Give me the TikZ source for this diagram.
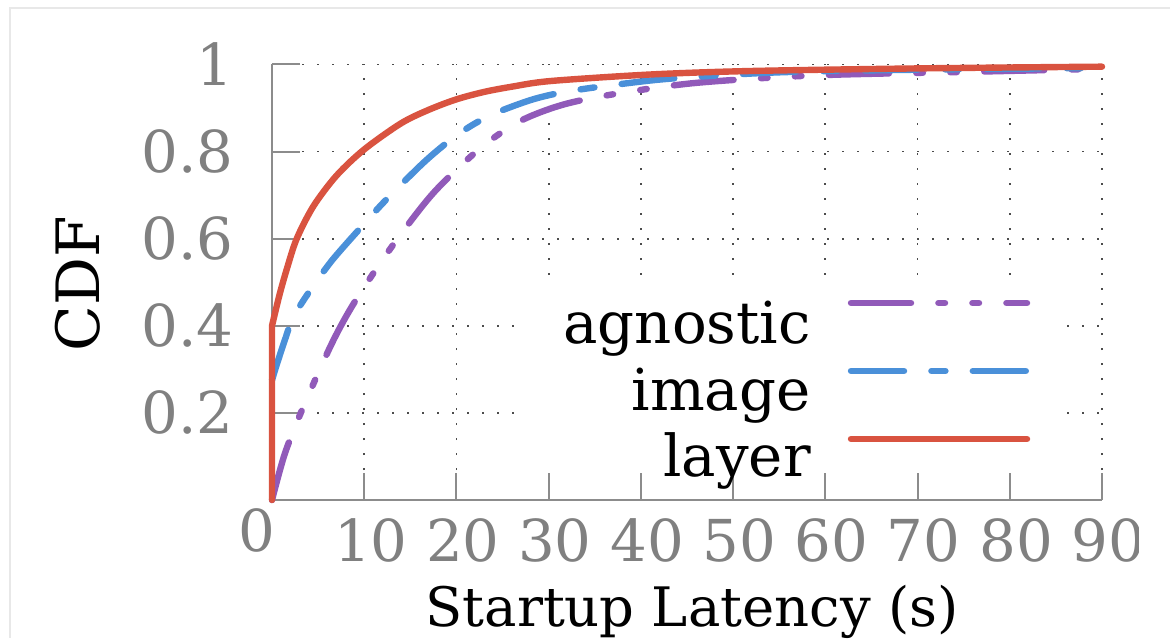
\documentclass[tikz,border=0pt]{standalone}
\usepackage{fontspec}
\setmainfont{DejaVu Serif}
\definecolor{cred}{RGB}{217,83,64}
\definecolor{cblue}{RGB}{74,144,217}
\definecolor{cpurple}{RGB}{145,90,185}
\definecolor{axgray}{RGB}{140,140,140}
\definecolor{labgray}{RGB}{128,128,128}
\definecolor{framegray}{RGB}{232,232,232}
\begin{document}
\begin{tikzpicture}[x=0.5bp,y=-0.5bp,
  curve/.style={line width=3.2bp, line cap=round, line join=round},
  agn/.style={curve, draw=cpurple, dash pattern=on 30bp off 13.7bp on 3.3bp off 13.7bp on 3.3bp off 13.7bp},
  img/.style={curve, draw=cblue, dash pattern=on 26.5bp off 13.7bp on 7bp off 13.7bp},
  lay/.style={curve, draw=cred},
  gridline/.style={line width=0.9bp, draw=black!70, dash pattern=on 0.9bp off 6.6bp},
  axisline/.style={draw=axgray, line width=1bp},
  ticklab/.style={text=labgray, font=\fontsize{29}{29}\selectfont, inner sep=0pt},
  leglab/.style={font=\fontsize{29}{29}\selectfont, inner sep=0pt, anchor=base east},
]
\useasboundingbox (0,0) rectangle (1170,638);
\fill[white] (0,0) rectangle (1170,638);
\draw[framegray, line width=1bp] (10,638) -- (10,8) -- (1170,8);

\begin{scope}[shift={(272,500)}, x=4.611bp, y=217.75bp]
  % grid
  \foreach \gx in {10,20,...,90} \draw[gridline] (\gx,0) -- (\gx,1);
  \foreach \gy in {0.2,0.4,0.6,0.8,1} \draw[gridline] (0,\gy) -- (90,\gy);
\end{scope}

% legend background
\fill[white] (520,275) rectangle (1055,472);

\begin{scope}[shift={(272,500)}, x=4.611bp, y=217.75bp]
  % ticks
  \foreach \gy in {0.2,0.4,0.6,0.8,1} \draw[axisline] (0,\gy) -- (3.04,\gy);
  \foreach \gx in {10,20,...,90} \draw[axisline] (\gx,0) -- (\gx,0.062);
  % axes
  \draw[axisline] (0,1) coordinate (ytop) -- (0,0) coordinate (orig) -- (90,0) coordinate (xend);
  % curves
  \draw[agn] plot[smooth, tension=0.5] coordinates {(0,0) (1.4,0.107) (3.4,0.214) (6.5,0.36) (9,0.456) (13,0.582) (17.5,0.705) (22.6,0.808) (26.9,0.87) (31.6,0.908) (37.4,0.933) (46.1,0.958) (59,0.975) (75.3,0.983) (90,0.99)};
  \draw[img] plot[smooth, tension=0.5] coordinates {(0,0.275) (0.5,0.31) (1.5,0.374) (2.3,0.42) (4.1,0.48) (6.5,0.55) (9.9,0.632) (12.4,0.69) (16.4,0.774) (19.3,0.826) (21.8,0.862) (24.4,0.89) (28.3,0.92) (32,0.938) (37.4,0.954) (43.5,0.968) (55,0.982) (70,0.988) (90,0.992)};
  \draw[lay] (0,0) -- plot[smooth, tension=0.5] coordinates {(0,0.4) (0.8,0.47) (1.6,0.53) (2.68,0.6) (4.5,0.675) (7,0.745) (10,0.805) (14,0.865) (17,0.896) (20,0.92) (23,0.937) (26,0.949) (30.2,0.962) (41,0.977) (51.8,0.985) (70,0.991) (90,0.995)};
\end{scope}

% y tick labels
\node[ticklab, anchor=east] (y10) at (234,64.5) {1};
\node[ticklab, anchor=east] (y08) at (234,151.6) {0.8};
\node[ticklab, anchor=east] (y06) at (234,238.7) {0.6};
\node[ticklab, anchor=east] (y04) at (234,325.8) {0.4};
\node[ticklab, anchor=east] (y02) at (234,412.9) {0.2};
% x tick labels
\node[ticklab] (x0) at (257,530) {0};
\node[ticklab] (x10) at (371,540) {10};
\node[ticklab] (x20) at (463,540) {20};
\node[ticklab] (x30) at (555,540) {30};
\node[ticklab] (x40) at (647,540) {40};
\node[ticklab] (x50) at (739,540) {50};
\node[ticklab] (x60) at (831,540) {60};
\node[ticklab] (x70) at (923,540) {70};
\node[ticklab] (x80) at (1016,540) {80};
\begin{scope}
  \clip (0,0) rectangle (1138,638);
  \node[ticklab] (x90) at (1108,540) {90};
\end{scope}
% axis labels
\node[rotate=90, inner sep=0pt, font=\fontsize{30}{30}\selectfont] (ylab) at (78,284) {CDF};
\node[anchor=base, inner sep=0pt, font=\fontsize{27.3}{27.3}\selectfont] (xlab) at (692,626) {Startup Latency (s)};

% legend
\node[leglab] (lagn) at (811,343) {agnostic};
\node[leglab] (limg) at (811,410) {image};
\node[leglab] (llay) at (811,476) {layer};
\coordinate (ka1) at (851,303); \coordinate (ka2) at (1027,303);
\coordinate (ki1) at (851,371); \coordinate (ki2) at (1027,371);
\coordinate (kl1) at (851,439); \coordinate (kl2) at (1027,439);
\draw[agn] (ka1) -- (ka2);
\draw[img] (ki1) -- (ki2);
\draw[lay] (kl1) -- (kl2);
\end{tikzpicture}
\end{document}
